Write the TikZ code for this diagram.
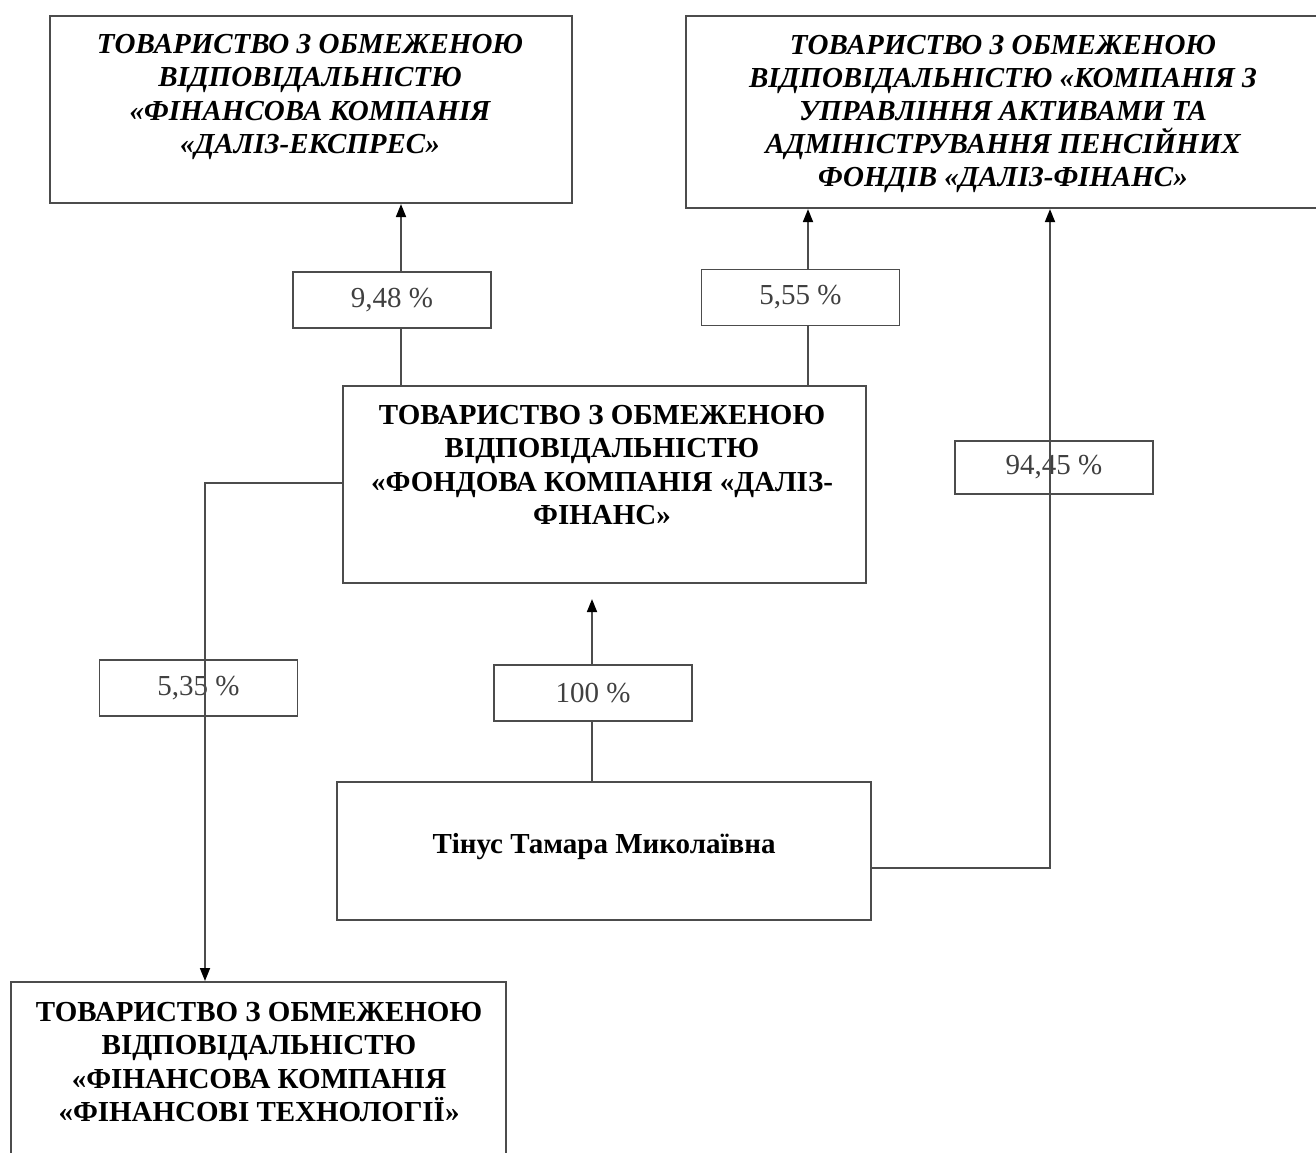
\documentclass[tikz,border=0pt]{standalone}
\usepackage{fontspec}
\setmainfont{Liberation Serif}
\usetikzlibrary{arrows.meta,positioning}

\tikzset{
  frame/.style={draw=black!70, line width=1.2pt, anchor=north west, inner sep=0pt},
  orgname/.style={align=center, inner sep=0pt, font=\fontsize{16.5}{18.9}\selectfont\bfseries},
  orgitalic/.style={orgname, font=\fontsize{16.5}{18.9}\selectfont\bfseries\itshape},
  pct/.style={draw=black!70, line width=1.1pt, minimum width=3.96cm, minimum height=1.12cm,
    inner sep=0pt, text=black!75, font=\fontsize{16.5}{18.9}\selectfont},
  link/.style={draw=black!70, line width=1pt},
  arrow/.style={link, -{Triangle[length=0.26cm, width=0.2cm, color=black]}}
}

\begin{document}
\begin{tikzpicture}[x=0.02cm, y=-0.02cm]
  \fill[white] (0,0) rectangle (1316,1153);
  \useasboundingbox (0,0) rectangle (1316,1153);

  % company frames
  \node[frame, minimum width=10.44cm, minimum height=3.74cm] (ekspres) at (49,15) {};
  \node[frame, minimum width=12.9cm, minimum height=3.84cm] (upravl) at (685,15) {};
  \node[frame, minimum width=10.46cm, minimum height=3.94cm] (fond) at (342,385) {};
  \node[frame, minimum width=10.68cm, minimum height=2.76cm] (tinus) at (336,781) {};
  \node[frame, minimum width=9.9cm, minimum height=3.8cm] (finteh) at (10,981) {};

  % names
  \node[orgitalic] (ekspresname) at (310,97)
    {ТОВАРИСТВО З ОБМЕЖЕНОЮ\\ВІДПОВІДАЛЬНІСТЮ\\«ФІНАНСОВА КОМПАНІЯ\\«ДАЛІЗ-ЕКСПРЕС»};
  \node[orgitalic] (upravlname) at (1003,114)
    {ТОВАРИСТВО З ОБМЕЖЕНОЮ\\ВІДПОВІДАЛЬНІСТЮ «КОМПАНІЯ З\\УПРАВЛІННЯ АКТИВАМИ ТА\\АДМІНІСТРУВАННЯ ПЕНСІЙНИХ\\ФОНДІВ «ДАЛІЗ-ФІНАНС»};
  \node[orgname] (fondname) at (602,465)
    {ТОВАРИСТВО З ОБМЕЖЕНОЮ\\ВІДПОВІДАЛЬНІСТЮ\\«ФОНДОВА КОМПАНІЯ «ДАЛІЗ-\\ФІНАНС»};
  \node[orgname] (tinusname) at (604,847) {Тінус Тамара Миколаївна};
  \node[orgname] (fintehname) at (259,1062)
    {ТОВАРИСТВО З ОБМЕЖЕНОЮ\\ВІДПОВІДАЛЬНІСТЮ\\«ФІНАНСОВА КОМПАНІЯ\\«ФІНАНСОВІ ТЕХНОЛОГІЇ»};

  % shares
  \node[pct] (p1) at (392,300) {9,48 \%};
  \node[pct] (p2) at (800.5,297.5) {5,55 \%};
  \node[pct, minimum height=1.06cm] (p3) at (1054,467.5) {94,45 \%};
  \node[pct] (p4) at (198.5,688) {5,35 \%};
  \node[pct] (p5) at (593,693) {100 \%};

  \coordinate (l1) at (401,0);
  \coordinate (l2) at (808,0);
  \coordinate (l3) at (1050,0);
  \coordinate (l4) at (205,0);
  \coordinate (l5) at (592,0);
  \coordinate (r1) at (0,868);
  \coordinate (r2) at (0,483);

  % connectors
  \draw[link] (fond.north -| l1) -- (p1.south -| l1);
  \draw[arrow] (p1.north -| l1) -- (ekspres.south -| l1);
  \draw[link] (fond.north -| l2) -- (p2.south -| l2);
  \draw[arrow] (p2.north -| l2) -- (upravl.south -| l2);
  \draw[link] (tinus.north -| l5) -- (p5.south -| l5);
  \draw[arrow, shorten >=0.3cm] (p5.north -| l5) -- (fond.south -| l5);
  \draw[arrow] (tinus.east |- r1) -| (upravl.south -| l3);
  \draw[arrow] (fond.west |- r2) -| (finteh.north -| l4);
\end{tikzpicture}
\end{document}
